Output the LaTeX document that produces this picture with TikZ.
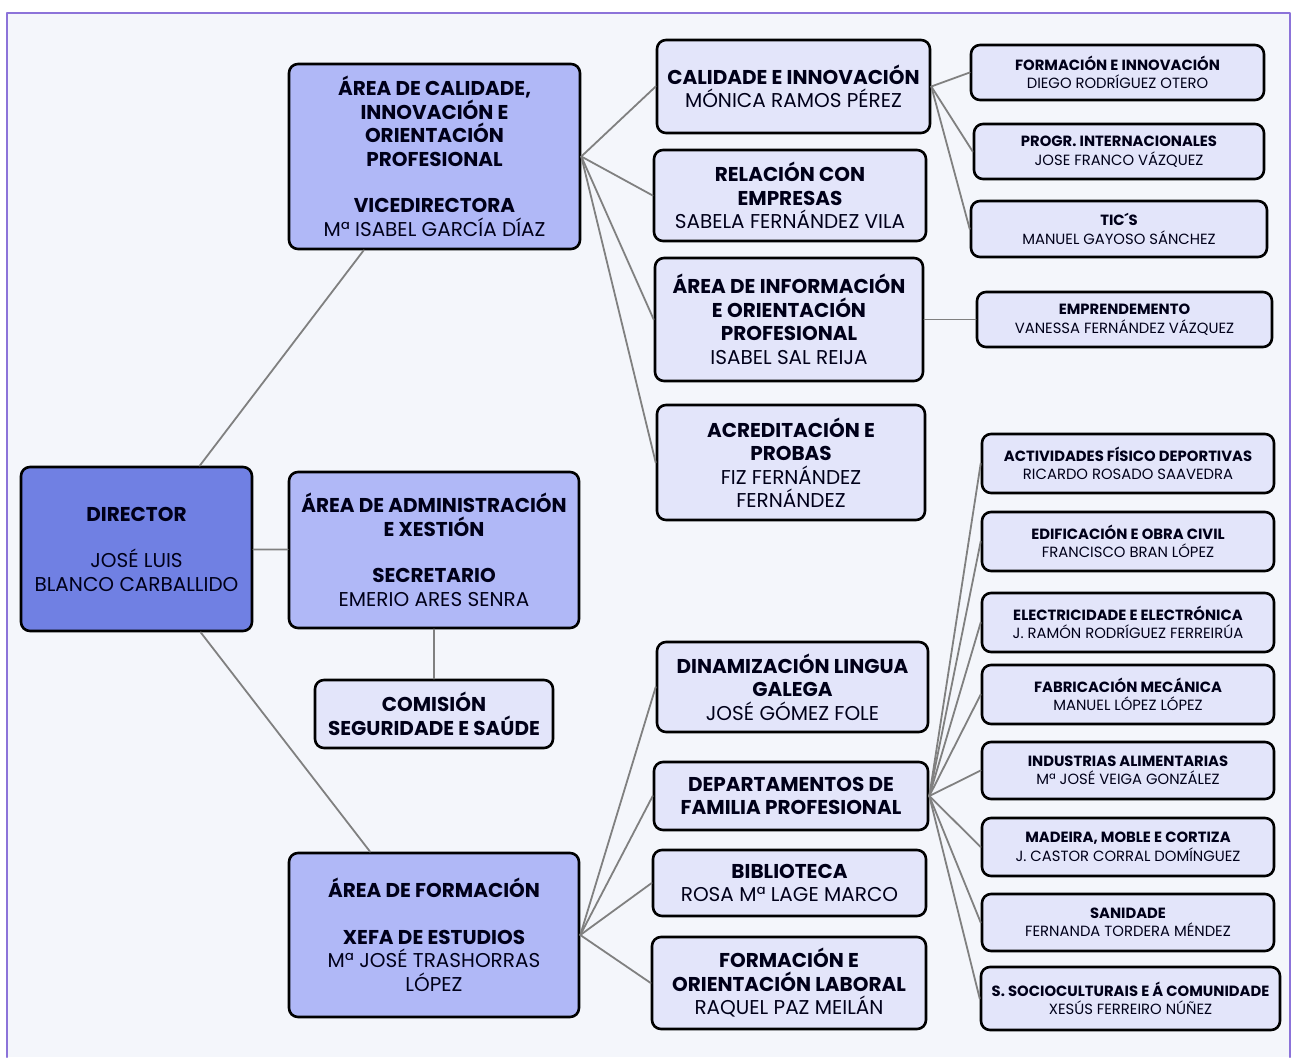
\documentclass[tikz,border=0pt]{standalone}
\usepackage{fontspec}
\setmainfont{Poppins}
\usepackage{tikz}
\usetikzlibrary{calc}
\definecolor{ppqqee}{rgb}{0.44,0.5,0.89}
\definecolor{bbccff}{rgb}{0.69,0.72,0.97}
\definecolor{eeeeff}{rgb}{0.89,0.9,0.98}
\definecolor{ffffbg}{rgb}{0.955,0.965,0.985}
\definecolor{ppllrr}{rgb}{0.55,0.45,0.85}
\definecolor{ggline}{rgb}{0.5,0.5,0.5}
\tikzstyle{every node}=[font=\fontsize{20}{23.5}\selectfont]
\tikzstyle{box}=[draw=black,line width=2.6pt,rounded corners=9pt,align=center,inner sep=0pt,text=black!90!blue]
\tikzstyle{dirbox}=[box,fill=ppqqee]
\tikzstyle{areabox}=[box,fill=bbccff]
\tikzstyle{subbox}=[box,fill=eeeeff]
\tikzstyle{tinybox}=[box,fill=eeeeff,font=\fontsize{14.8}{18.5}\selectfont]
\tikzstyle{link}=[line width=1.8pt,color=ggline]

\begin{document}
\begin{tikzpicture}[line cap=round,line join=round,x=1.0pt,y=-1.0pt]
\useasboundingbox (0,0) rectangle (1295,1057);
\fill [white] (0,0) rectangle (1295,1057);
\fill [ffffbg] (7,13) rectangle (1290,1057);
\draw [ppllrr,line width=2.4pt] (7,1057) -- (7,13) -- (1290,13) -- (1290,1057);
% director and areas
\node [dirbox,minimum width=231pt,minimum height=164pt] (dir) at (136.5,549) {\textbf{DIRECTOR}\\[23pt]JOSÉ LUIS\\BLANCO CARBALLIDO};
\node [areabox,minimum width=291pt,minimum height=185pt] (calid) at (434.5,156.5) {\textbf{ÁREA DE CALIDADE,}\\\textbf{INNOVACIÓN E}\\\textbf{ORIENTACIÓN}\\\textbf{PROFESIONAL}\\[23pt]\textbf{VICEDIRECTORA}\\Mª ISABEL GARCÍA DÍAZ};
\node [areabox,minimum width=290pt,minimum height=156pt] (admin) at (434,550) {\textbf{ÁREA DE ADMINISTRACIÓN}\\\textbf{E XESTIÓN}\\[23pt]\textbf{SECRETARIO}\\EMERIO ARES SENRA};
\node [subbox,minimum width=238pt,minimum height=68pt] (comis) at (434,714) {\textbf{COMISIÓN}\\\textbf{SEGURIDADE E SAÚDE}};
\node [areabox,minimum width=290pt,minimum height=164pt] (forma) at (434,935) {\textbf{ÁREA DE FORMACIÓN}\\[23pt]\textbf{XEFA DE ESTUDIOS}\\Mª JOSÉ TRASHORRAS\\LÓPEZ};
% third level
\node [subbox,minimum width=273pt,minimum height=93pt] (calinn) at (793.5,86.5) {\textbf{CALIDADE E INNOVACIÓN}\\MÓNICA RAMOS PÉREZ};
\node [subbox,minimum width=272pt,minimum height=91pt] (empres) at (790,195.5) {\textbf{RELACIÓN CON}\\\textbf{EMPRESAS}\\SABELA FERNÁNDEZ VILA};
\node [subbox,minimum width=268pt,minimum height=123pt] (inform) at (789,319.5) {\textbf{ÁREA DE INFORMACIÓN}\\\textbf{E ORIENTACIÓN}\\\textbf{PROFESIONAL}\\ISABEL SAL REIJA};
\node [subbox,minimum width=268pt,minimum height=115pt] (acred) at (791,462.5) {\textbf{ACREDITACIÓN E}\\\textbf{PROBAS}\\FIZ FERNÁNDEZ\\FERNÁNDEZ};
\node [subbox,minimum width=271pt,minimum height=90pt] (dinam) at (792.5,687) {\textbf{DINAMIZACIÓN LINGUA}\\\textbf{GALEGA}\\JOSÉ GÓMEZ FOLE};
\node [subbox,minimum width=274pt,minimum height=68pt] (depart) at (791,796) {\textbf{DEPARTAMENTOS DE}\\\textbf{FAMILIA PROFESIONAL}};
\node [subbox,minimum width=273pt,minimum height=66pt] (biblio) at (789.5,883) {\textbf{BIBLIOTECA}\\ROSA Mª LAGE MARCO};
\node [subbox,minimum width=274pt,minimum height=92pt] (laboral) at (789,983) {\textbf{FORMACIÓN E}\\\textbf{ORIENTACIÓN LABORAL}\\RAQUEL PAZ MEILÁN};
% fourth level
\node [tinybox,minimum width=293pt,minimum height=55pt] (finn) at (1117.5,72.5) {\textbf{FORMACIÓN E INNOVACIÓN}\\DIEGO RODRÍGUEZ OTERO};
\node [tinybox,minimum width=290pt,minimum height=55pt] (progr) at (1119,151.5) {\textbf{PROGR. INTERNACIONALES}\\JOSE FRANCO VÁZQUEZ};
\node [tinybox,minimum width=296pt,minimum height=56pt] (tics) at (1119,229) {\textbf{TIC´S}\\MANUEL GAYOSO SÁNCHEZ};
\node [tinybox,minimum width=295pt,minimum height=55pt] (empren) at (1124.5,319.5) {\textbf{EMPRENDEMENTO}\\VANESSA FERNÁNDEZ VÁZQUEZ};
\node [tinybox,minimum width=292pt,minimum height=59pt] (activ) at (1128,463.5) {\textbf{ACTIVIDADES FÍSICO DEPORTIVAS}\\RICARDO ROSADO SAAVEDRA};
\node [tinybox,minimum width=292pt,minimum height=59pt] (edif) at (1128,541.5) {\textbf{EDIFICACIÓN E OBRA CIVIL}\\FRANCISCO BRAN LÓPEZ};
\node [tinybox,minimum width=292pt,minimum height=59pt] (elec) at (1128,622.5) {\textbf{ELECTRICIDADE E ELECTRÓNICA}\\J. RAMÓN RODRÍGUEZ FERREIRÚA};
\node [tinybox,minimum width=292pt,minimum height=59pt] (fabric) at (1128,694.5) {\textbf{FABRICACIÓN MECÁNICA}\\MANUEL LÓPEZ LÓPEZ};
\node [tinybox,minimum width=292pt,minimum height=57pt] (indus) at (1128,770.5) {\textbf{INDUSTRIAS ALIMENTARIAS}\\Mª JOSÉ VEIGA GONZÁLEZ};
\node [tinybox,minimum width=292pt,minimum height=58pt] (madeira) at (1128,847) {\textbf{MADEIRA, MOBLE E CORTIZA}\\J. CASTOR CORRAL DOMÍNGUEZ};
\node [tinybox,minimum width=292pt,minimum height=57pt] (sanid) at (1128,922.5) {\textbf{SANIDADE}\\FERNANDA TORDERA MÉNDEZ};
\node [tinybox,minimum width=299pt,minimum height=63pt] (socio) at (1130.5,998.5) {\textbf{S. SOCIOCULTURAIS E Á COMUNIDADE}\\XESÚS FERREIRO NÚÑEZ};
% links
\draw [link] (dir) -- (calid);
\draw [link] (dir) -- (admin);
\draw [link] (dir) -- (forma);
\draw [link] (admin) -- (comis);
\draw [link] (calid.east) -- (calinn.west);
\draw [link] (calid.east) -- (empres.west);
\draw [link] (calid.east) -- (inform.west);
\draw [link] (calid.east) -- (acred.west);
\draw [link] (calinn.east) -- (finn.west);
\draw [link] (calinn.east) -- (progr.west);
\draw [link] (calinn.east) -- (tics.west);
\draw [link] (inform.east) -- (empren.west);
\draw [link] (forma.east) -- (dinam.west);
\draw [link] (forma.east) -- (depart.west);
\draw [link] (forma.east) -- (biblio.west);
\draw [link] (forma.east) -- (laboral.west);
\draw [link] (depart.east) -- (activ.west);
\draw [link] (depart.east) -- (edif.west);
\draw [link] (depart.east) -- (elec.west);
\draw [link] (depart.east) -- (fabric.west);
\draw [link] (depart.east) -- (indus.west);
\draw [link] (depart.east) -- (madeira.west);
\draw [link] (depart.east) -- (sanid.west);
\draw [link] (depart.east) -- (socio.west);
\end{tikzpicture}
\end{document}
